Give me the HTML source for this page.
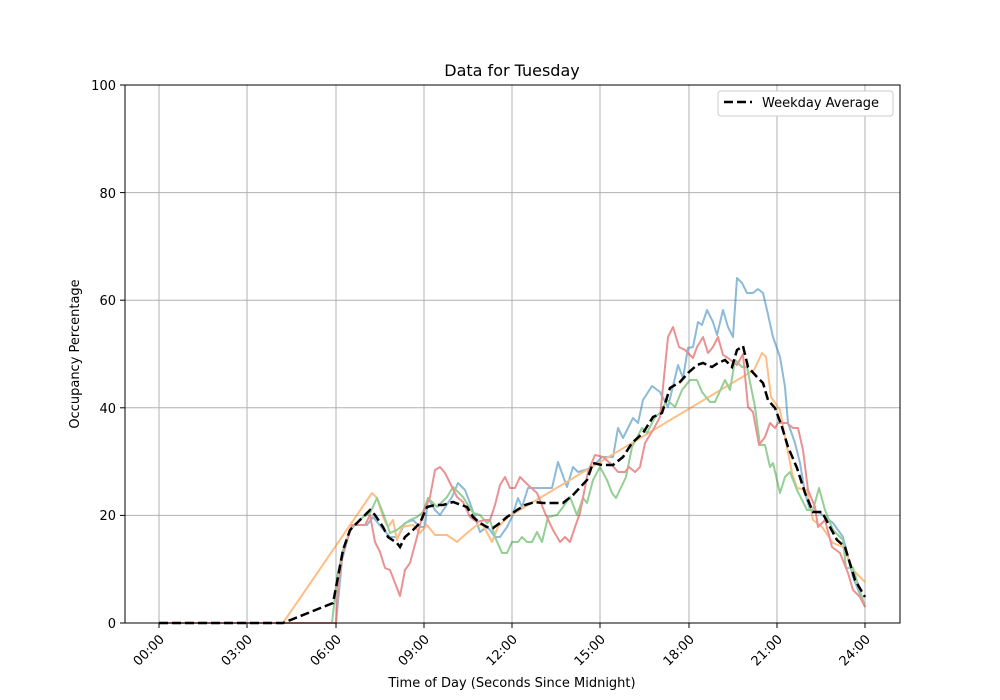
<!DOCTYPE html>
<html><head><meta charset="utf-8"><style>body{margin:0;background:#fff}svg{display:block;font-family:"DejaVu Sans","Liberation Sans",sans-serif}</style></head><body>
<svg width="1000" height="700" viewBox="0 0 1000 700" xmlns="http://www.w3.org/2000/svg">
<rect width="1000" height="700" fill="#fff"/>
<g stroke="#b0b0b0" stroke-width="1">
<line x1="159" y1="85" x2="159" y2="623"/><line x1="247" y1="85" x2="247" y2="623"/><line x1="336" y1="85" x2="336" y2="623"/><line x1="424" y1="85" x2="424" y2="623"/><line x1="512" y1="85" x2="512" y2="623"/><line x1="600" y1="85" x2="600" y2="623"/><line x1="689" y1="85" x2="689" y2="623"/><line x1="777" y1="85" x2="777" y2="623"/><line x1="865" y1="85" x2="865" y2="623"/>
<line x1="125" y1="515.4" x2="900" y2="515.4"/><line x1="125" y1="407.8" x2="900" y2="407.8"/><line x1="125" y1="300.2" x2="900" y2="300.2"/><line x1="125" y1="192.6" x2="900" y2="192.6"/>
</g>
<g fill="none" stroke-width="2" stroke-linejoin="round" opacity="0.5">
<polyline stroke="#1f77b4" points="159,623 333,623 336,623 342,560 350,530 355,525 367,525 373,517 382,528 390,537 398,537 405,523 413,520 420,527 425,527 428,498 435,510 440,515 452,497 458,483 465,490 470,503 477,523 480,532 487,527 490,530 495,537 500,537 507,527 512,517 518,498 522,507 528,488 552,488 558,462 567,487 573,467 578,472 585,470 592,467 602,457 613,457 618,428 623,438 633,418 638,423 643,400 652,386 660,392 668,407 678,365 683,378 688,348 693,347 698,322 702,325 707,310 713,322 717,335 723,310 728,327 733,337 737,278 742,283 747,293 753,293 758,289 763,293 767,310 773,337 780,357 785,387 788,423 795,443 800,463 805,493 810,510 820,513 833,523 843,537 853,577 865,607"/>
<polyline stroke="#ff7f0e" points="159,623 283,623 372,493 377,498 383,517 388,527 393,520 397,540 402,527 413,525 420,533 427,525 435,535 447,535 457,542 467,533 477,525 483,525 492,542 498,527 508,517 600,462 754,370 762,353 766,357 771,397 780,410 785,437 792,473 797,488 807,490 813,520 822,527 833,543 843,547 853,570 865,582"/>
<polyline stroke="#2ca02c" points="159,623 332,623 337,577 343,550 352,527 363,517 370,513 377,498 383,513 390,533 397,530 403,525 410,520 417,517 423,512 428,498 437,507 447,497 453,487 463,497 473,513 480,515 487,523 490,520 495,537 502,553 507,553 512,542 518,542 522,537 527,542 532,542 537,532 542,542 548,517 557,515 563,507 570,497 577,515 583,498 587,503 593,480 600,467 607,480 612,493 616,498 626,477 632,447 642,428 647,433 655,417 660,413 667,400 675,407 682,390 690,380 697,380 702,392 710,402 715,402 725,380 730,390 735,360 742,367 747,367 755,407 760,445 765,445 770,467 773,463 780,493 785,477 790,472 797,490 807,510 813,510 819,488 825,510 833,530 843,540 846,568 853,568 865,607"/>
<polyline stroke="#d62728" points="159,623 333,623 336,623 338,587 343,552 352,525 365,525 370,515 375,542 380,552 385,568 390,570 395,583 400,596 405,570 410,563 417,537 423,513 430,497 435,470 440,467 445,473 452,487 457,497 463,502 470,517 477,522 485,520 490,520 495,505 500,485 505,477 510,488 515,488 520,477 528,485 537,493 545,513 553,530 560,542 565,537 570,542 575,527 580,513 588,472 595,455 603,457 612,465 618,472 625,472 629,467 635,472 640,467 645,443 653,430 660,417 668,337 673,327 679,347 685,350 693,358 697,347 703,337 708,353 713,347 718,337 723,355 728,358 737,365 743,354 748,407 753,412 759,445 765,437 770,423 775,428 778,423 787,423 793,428 798,428 803,450 808,490 815,507 818,527 825,520 832,547 840,553 848,573 853,590 860,597 865,607"/>
</g>
<polyline fill="none" stroke="#000" stroke-width="2.5" stroke-dasharray="9,4" points="159,623 283,623 333,603 338,577 343,550 350,530 357,523 363,517 370,510 375,515 383,527 388,537 397,543 400,547 405,537 413,530 420,523 427,507 435,505 443,505 453,502 467,507 473,517 480,523 487,527 493,528 500,523 507,517 517,510 525,505 535,502 543,503 553,503 563,503 573,495 587,480 593,463 602,465 613,465 623,457 632,443 643,433 653,417 662,413 670,388 680,382 688,373 697,365 703,363 712,367 718,363 725,360 732,367 737,350 743,346 748,367 757,377 763,383 768,400 775,408 782,427 788,447 797,468 805,493 813,512 822,512 830,527 837,540 845,547 855,580 865,597"/>
<rect x="125" y="85" width="775" height="538" fill="none" stroke="#000" stroke-width="1"/>
<g stroke="#000" stroke-width="1">
<line x1="159" y1="623" x2="159" y2="628"/><line x1="247" y1="623" x2="247" y2="628"/><line x1="336" y1="623" x2="336" y2="628"/><line x1="424" y1="623" x2="424" y2="628"/><line x1="512" y1="623" x2="512" y2="628"/><line x1="600" y1="623" x2="600" y2="628"/><line x1="689" y1="623" x2="689" y2="628"/><line x1="777" y1="623" x2="777" y2="628"/><line x1="865" y1="623" x2="865" y2="628"/>
<line x1="120" y1="623" x2="125" y2="623"/><line x1="120" y1="515.4" x2="125" y2="515.4"/><line x1="120" y1="407.8" x2="125" y2="407.8"/><line x1="120" y1="300.2" x2="125" y2="300.2"/><line x1="120" y1="192.6" x2="125" y2="192.6"/><line x1="120" y1="85" x2="125" y2="85"/>
</g>
<g font-size="13" fill="#000" text-anchor="end">
<text x="116" y="628">0</text><text x="116" y="520">20</text><text x="116" y="413">40</text><text x="116" y="305">60</text><text x="116" y="198">80</text><text x="116" y="90">100</text>
</g>
<g font-size="13" fill="#000" text-anchor="end">
<text transform="translate(165,640) rotate(-45)">00:00</text>
<text transform="translate(253,640) rotate(-45)">03:00</text>
<text transform="translate(342,640) rotate(-45)">06:00</text>
<text transform="translate(430,640) rotate(-45)">09:00</text>
<text transform="translate(518,640) rotate(-45)">12:00</text>
<text transform="translate(606,640) rotate(-45)">15:00</text>
<text transform="translate(695,640) rotate(-45)">18:00</text>
<text transform="translate(783,640) rotate(-45)">21:00</text>
<text transform="translate(871,640) rotate(-45)">24:00</text>
</g>
<text x="512" y="687" font-size="13" text-anchor="middle">Time of Day (Seconds Since Midnight)</text>
<text transform="translate(79,354) rotate(-90)" font-size="13" text-anchor="middle">Occupancy Percentage</text>
<text x="512" y="76" font-size="16" text-anchor="middle">Data for Tuesday</text>
<rect x="718" y="91" width="175" height="25" rx="3" fill="#fff" stroke="#ccc"/>
<line x1="724" y1="102" x2="752" y2="102" stroke="#000" stroke-width="2.5" stroke-dasharray="9,4"/>
<text x="762" y="107" font-size="13">Weekday Average</text>
</svg>
</body></html>
